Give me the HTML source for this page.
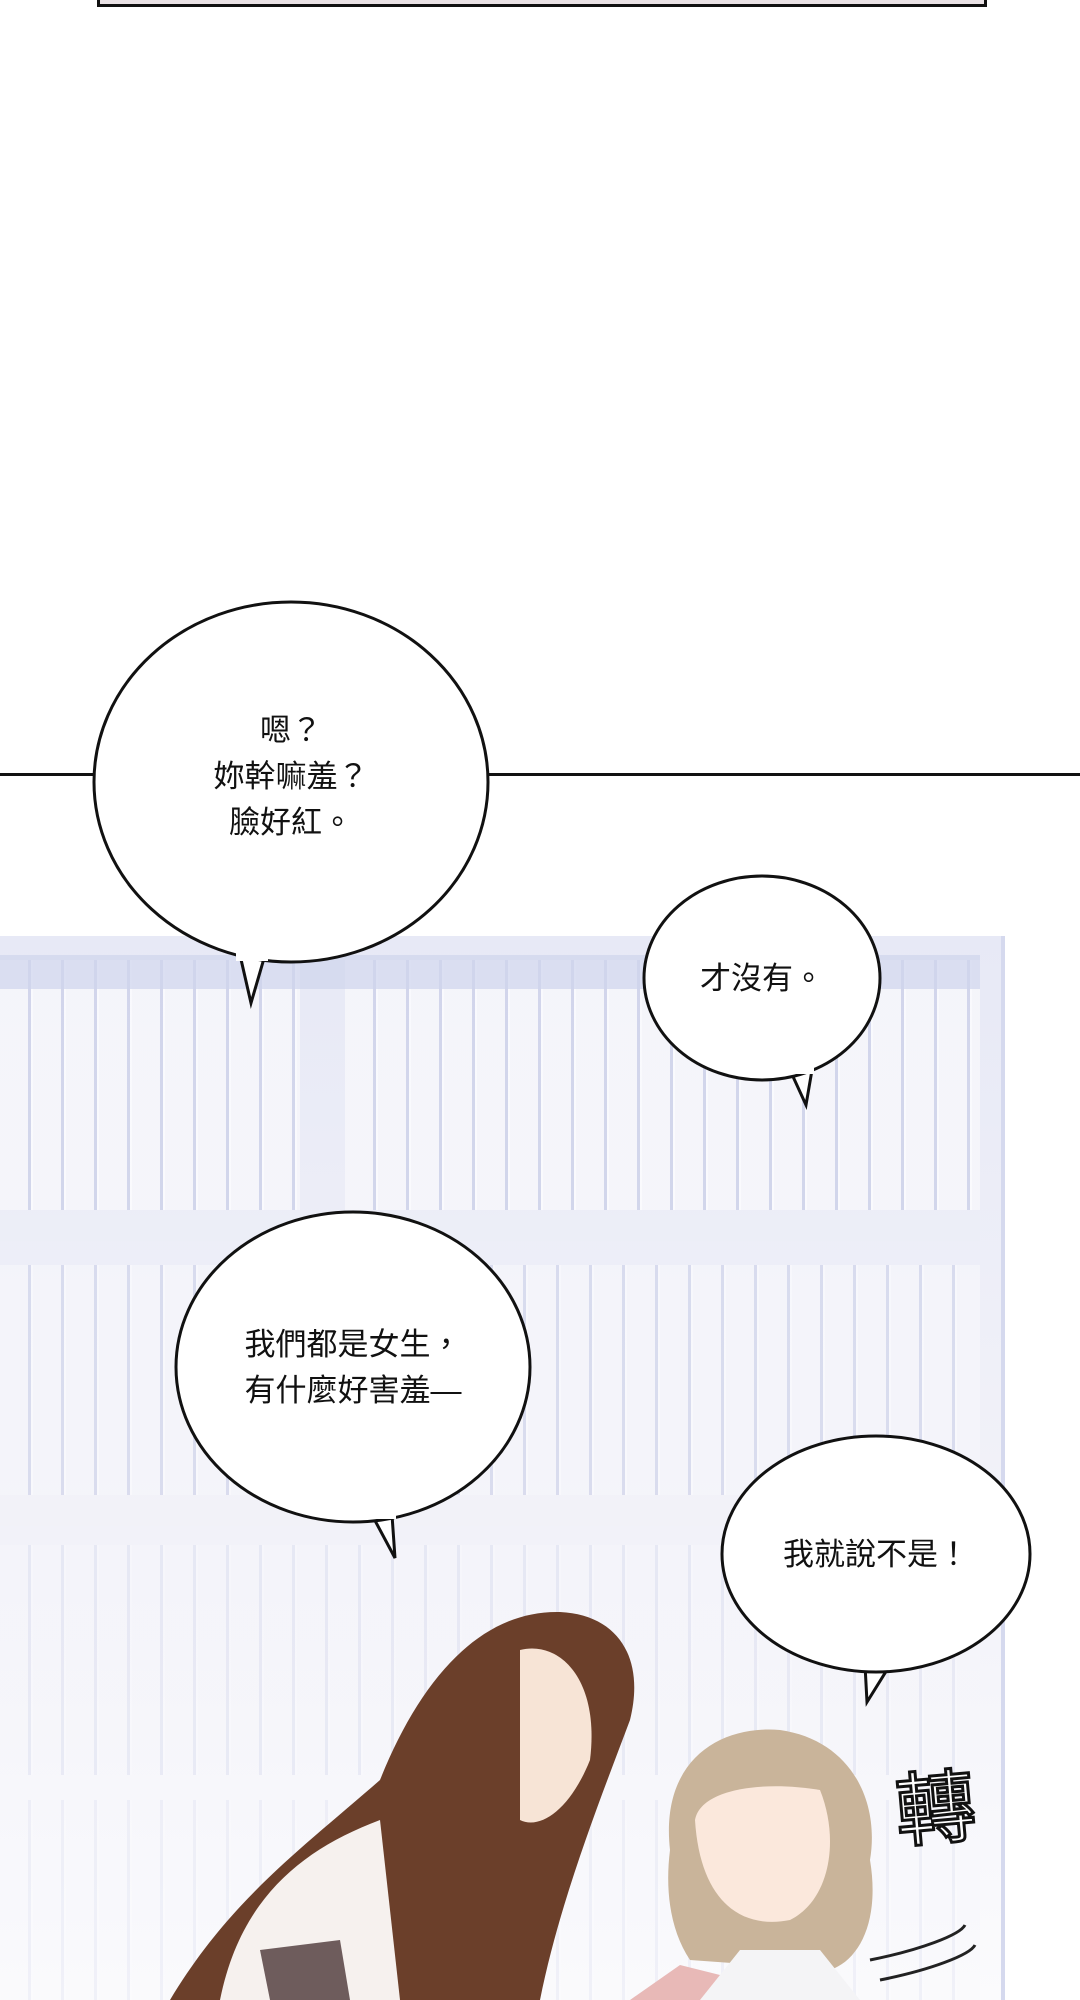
<!DOCTYPE html>
<html><head><meta charset="utf-8"><style>
body{margin:0;width:1080px;height:2000px;position:relative;overflow:hidden;background:#fff;font-family:"Liberation Sans","Noto Sans CJK TC",sans-serif}
.a{position:absolute}
.txt{position:absolute;text-align:center;font-size:31px;line-height:46px;color:#111}
.shelf{position:absolute;background:repeating-linear-gradient(90deg,#f6f6fb 0 28px,#cfd3ea 28px 31px,#fbfbfe 31px 33px);}
</style></head><body>
<div class="a" style="left:97px;top:-4px;width:884px;height:8px;border:3px solid #111;border-top:none;background:#e9e1e4"></div>
<div class="a" style="left:0;top:773px;width:1080px;height:3px;background:#111"></div>
<div class="a" style="left:0;top:936px;width:1001px;height:1064px;background:linear-gradient(#e7e9f6,#f3f3f9 60%,#fbfbfd);border-right:4px solid #d5d9ee"></div>
<div class="shelf" style="left:0;top:960px;width:300px;height:250px;opacity:.9"></div>
<div class="shelf" style="left:345px;top:960px;width:635px;height:250px;opacity:.9"></div>
<div class="a" style="left:0;top:955px;width:980px;height:34px;background:#cfd4ec;opacity:.7"></div>
<div class="a" style="left:0;top:1215px;width:980px;height:26px;background:#eceef7"></div>
<div class="shelf" style="left:0;top:1265px;width:980px;height:230px;opacity:.7"></div>
<div class="a" style="left:0;top:1500px;width:980px;height:26px;background:#f2f2f8"></div>
<div class="shelf" style="left:0;top:1545px;width:980px;height:230px;opacity:.35"></div>
<div class="shelf" style="left:0;top:1800px;width:980px;height:200px;opacity:.25"></div>
<svg class="a" style="left:0;top:0" width="1080" height="2000">
<path d="M170 2000 C230 1900 300 1850 380 1780 C420 1680 480 1610 560 1612 C620 1615 645 1660 630 1720 C600 1800 560 1900 540 2000Z" fill="#6b3f2a"/>
<path d="M520 1650 C560 1640 600 1680 590 1760 C570 1810 540 1830 520 1820 Z" fill="#f7e4d6"/>
<path d="M220 2000 C240 1900 300 1850 380 1820 L400 2000Z" fill="#f6f1ee"/>
<path d="M260 1950 L340 1940 L350 2000 L270 2000Z" fill="#6e5c5c"/>
<path d="M670 1850 C660 1760 720 1725 780 1730 C850 1740 880 1800 870 1860 C880 1920 860 1960 830 1970 L690 1960 C670 1930 665 1890 670 1850Z" fill="#c9b49a"/>
<path d="M695 1820 C700 1790 760 1780 820 1790 C840 1840 830 1900 790 1920 C740 1930 700 1900 695 1820Z" fill="#fbe8dc"/>
<path d="M700 2000 L740 1950 L820 1950 L860 2000Z" fill="#f4f4f6"/>
<path d="M630 2000 L680 1965 L720 1975 L700 2000Z" fill="#e8b9b7"/>
<path d="M870 1960 C920 1950 960 1935 965 1925" stroke="#222" stroke-width="3" fill="none"/>
<path d="M880 1980 C930 1970 970 1955 975 1945" stroke="#222" stroke-width="3" fill="none"/>
</svg>
<div class="a" style="left:895px;top:1745px;font-size:80px;color:#fff;-webkit-text-stroke:3px #111;font-family:'Noto Sans CJK TC',sans-serif;transform:rotate(-5deg)">轉</div>
<svg class="a" style="left:0;top:0" width="1080" height="2000">
<g fill="#fff" stroke="#111" stroke-width="3">
<path d="M240 955 L251 1003 L265 955"/>
<ellipse cx="291" cy="782" rx="197" ry="180"/>
<path d="M790 1070 L806 1105 L812 1070"/>
<ellipse cx="762" cy="978" rx="118" ry="102"/>
<path d="M372 1515 L395 1558 L392 1515"/>
<ellipse cx="353" cy="1367" rx="177" ry="155"/>
<path d="M865 1665 L867 1702 L890 1665"/>
<ellipse cx="876" cy="1554" rx="154" ry="118"/>
</g>
<g fill="#fff"><rect x="236" y="945" width="32" height="16"/><rect x="786" y="1060" width="28" height="14"/><rect x="368" y="1505" width="28" height="14"/><rect x="862" y="1655" width="30" height="14"/></g>
</svg>
<div class="txt" style="left:91px;top:708px;width:400px">嗯？<br>妳幹嘛羞？<br>臉好紅。</div>
<div class="txt" style="left:644px;top:956px;width:236px">才沒有。</div>
<div class="txt" style="left:176px;top:1322px;width:354px">我們都是女生，<br>有什麼好害羞—</div>
<div class="txt" style="left:722px;top:1532px;width:308px">我就說不是！</div>
</body></html>
